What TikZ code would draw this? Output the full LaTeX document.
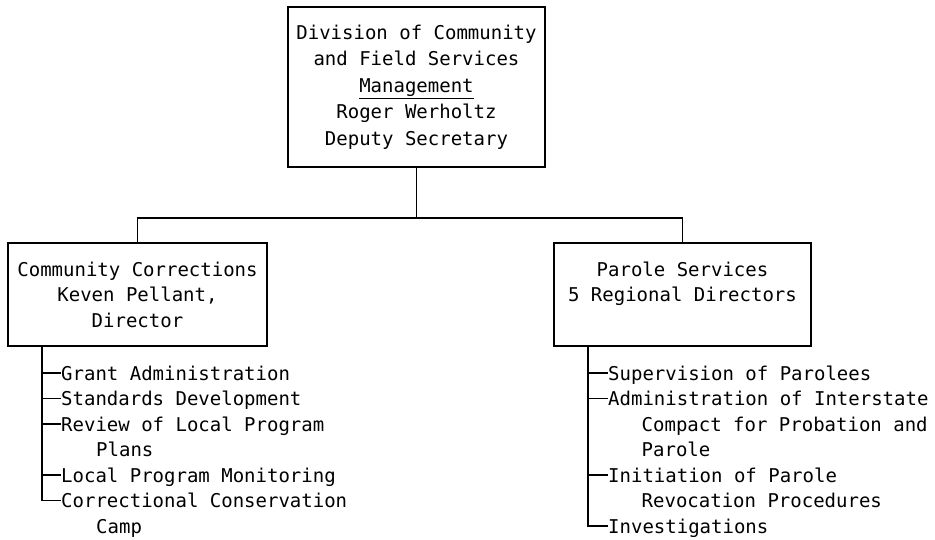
\documentclass[tikz,border=0pt]{standalone}
\usepackage{fontspec}
\setmonofont{DejaVu Sans Mono}
\begin{document}
\begin{tikzpicture}[x=1pt,y=-1pt,
  basefont/.style={font=\ttfamily\fontsize{19}{25.5}\selectfont},
  box/.style={draw, line width=1.8pt, inner sep=0pt, basefont, align=center},
  txt/.style={inner sep=0pt, basefont, align=center},
  item/.style={anchor=base west, inner sep=0pt, basefont},
  conn/.style={line width=1.8pt}]
\useasboundingbox (0,0) rectangle (935,539);

% boxes
\node[box, minimum width=257pt, minimum height=160pt,
      font=\ttfamily\fontsize{19}{26.5}\selectfont] (top) at (416.5,87)
  {Division of Community\\and Field Services\\\underline{Management}\\Roger Werholtz\\Deputy Secretary};
\node[box, minimum width=259pt, minimum height=103pt] (lbox) at (137.5,294.5)
  {Community Corrections\\Keven Pellant,\\Director};
\node[box, minimum width=257pt, minimum height=103pt] (rbox) at (682.5,294.5) {};
\node[txt, anchor=north] (rtxt) at ([yshift=-19.5pt]rbox.north)
  {Parole Services\\5 Regional Directors};

% top connectors
\coordinate (hy) at (0,218);
\draw[conn] (top.south) -- (top.south |- hy);
\draw[conn] (lbox.north) |- (hy -| rbox.north) -- (rbox.north);

% left list
\node[item] (l1) at (61,380) {Grant Administration};
\node[item] (l2) at (61,405.5) {Standards Development};
\node[item] (l3) at (61,431) {Review of Local Program};
\node[item] (l3b) at (96,456.5) {Plans};
\node[item] (l4) at (61,482) {Local Program Monitoring};
\node[item] (l5) at (61,507.5) {Correctional Conservation};
\node[item] (l5b) at (96,533) {Camp};

\coordinate (lt) at ([xshift=35pt]lbox.south west);
\foreach \n in {1,...,5}{
  \coordinate (ld\n) at ([yshift=7pt]l\n.base west);
}
\draw[conn] (lt) |- (ld5);
\foreach \n in {1,...,4}{
  \draw[conn] (ld\n -| lt) -- (ld\n);
}

% right list
\node[item] (r1) at (608,380) {Supervision of Parolees};
\node[item] (r2) at (608,405.5) {Administration of Interstate};
\node[item] (r2b) at (641.5,431) {Compact for Probation and};
\node[item] (r2c) at (641.5,456.5) {Parole};
\node[item] (r3) at (608,482) {Initiation of Parole};
\node[item] (r3b) at (641.5,507.5) {Revocation Procedures};
\node[item] (r4) at (608,533) {Investigations};

\coordinate (rt) at ([xshift=35pt]rbox.south west);
\foreach \n in {1,...,4}{
  \coordinate (rd\n) at ([yshift=7pt]r\n.base west);
}
\draw[conn] (rt) |- (rd4);
\foreach \n in {1,...,3}{
  \draw[conn] (rd\n -| rt) -- (rd\n);
}
\end{tikzpicture}
\end{document}
